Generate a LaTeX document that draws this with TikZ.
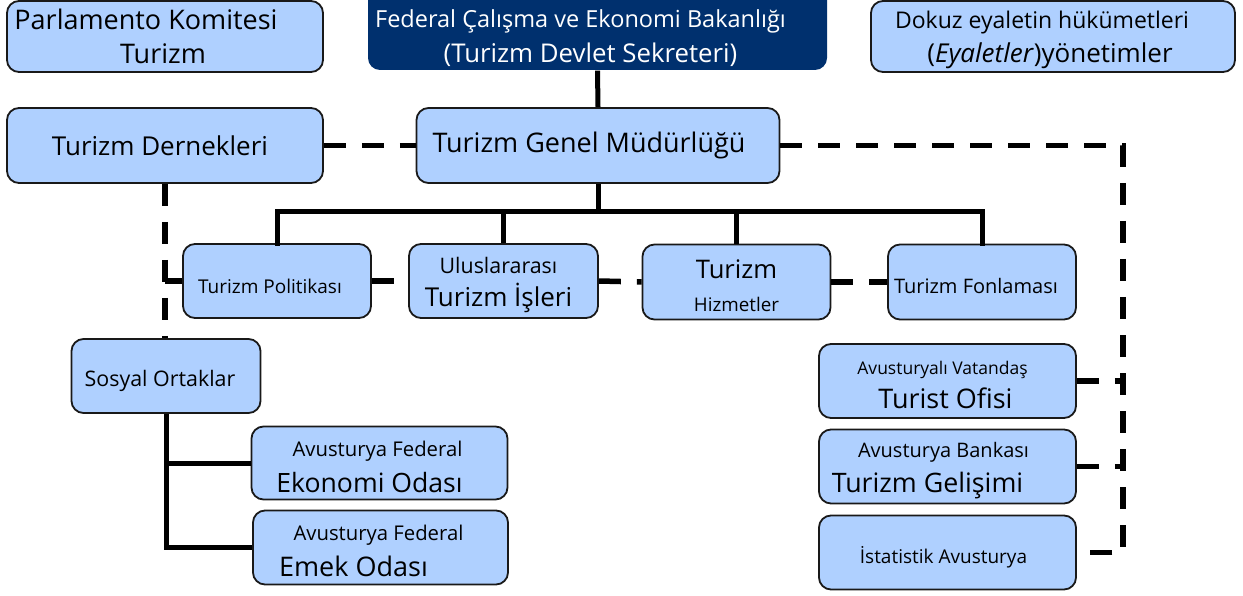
\documentclass[tikz,border=0pt]{standalone}
\usepackage{fontspec}
\setmainfont{Open Sans}
\definecolor{boxblue}{RGB}{175,208,255}
\definecolor{navy}{RGB}{0,48,110}
\newcommand\fsz[2]{\fontsize{#1}{#2}\selectfont}
\newcommand\topgap[1]{\rule{0pt}{#1pt}}

\begin{document}
\begin{tikzpicture}[x=1pt,y=-1pt,
	box/.style={draw=black!90, line width=1.8pt, fill=boxblue, rounded corners=12pt, align=center, inner sep=0pt},
	lines/.style={font=\fsz{20}{#1}},
	dashline/.style={line width=5.5pt, dash pattern=on 22pt off 16pt},
	solidline/.style={line width=5pt}]
			%%%%% FRAME %%%%%
			\useasboundingbox (0,0) rectangle (1243,596);
			
			%%%%% TOP ROW %%%%%
			\node[box, lines=34pt, minimum width=316pt, minimum height=71pt] (parl) at (165,36.5)
				{\fsz{27}{34}Parlamento Komitesi\hspace*{38pt}\\\fsz{27}{34}Turizm\hspace*{4pt}};
			
			\fill[navy, rounded corners=12pt] (368,-40) rectangle (827,70);
			\node[text=white, align=center, lines=35pt, minimum width=459pt, minimum height=70pt] (fed) at (597.5,35)
				{\fsz{23.5}{35}\topgap{25}Federal Çalışma ve Ekonomi Bakanlığı\hspace*{34pt}\\\fsz{25.8}{35}(Turizm Devlet Sekreteri)\hspace*{14pt}};
			
			\node[box, lines=34pt, minimum width=364pt, minimum height=71pt] (dokuz) at (1053,36.5)
				{\fsz{23}{34}\topgap{24}Dokuz eyaletin hükümetleri\hspace*{22pt}\\\fsz{26}{34}(\textit{Eyaletler})yönetimler\hspace*{6pt}};
			
			%%%%% SECOND ROW %%%%%
			\node[box, minimum width=316pt, minimum height=75pt, font=\fsz{26}{32}] (dernek) at (165,145.5) {Turizm Dernekleri\hspace*{10pt}};
			\node[box, minimum width=363pt, minimum height=75pt, font=\fsz{27}{34}] (genel) at (598,145.5) {Turizm Genel Müdürlüğü\hspace*{18pt}};
			
			%%%%% DEPARTMENTS %%%%%
			\node[box, minimum width=188pt, minimum height=74pt, font=\fsz{19}{24}] (politika) at (277,281) {\topgap{24.5}Turizm Politikası\hspace*{14pt}};
			\node[box, lines=33pt, minimum width=189pt, minimum height=74pt] (uluslar) at (503.5,281)
				{\fsz{21.4}{33}\topgap{24}Uluslararası\hspace*{10pt}\\\fsz{26}{33}Turizm İşleri\hspace*{10pt}};
			\node[box, lines=33pt, minimum width=188pt, minimum height=75pt] (hizmet) at (736.5,282)
				{\fsz{25.6}{33}\topgap{26}Turizm\\\fsz{18.8}{33}Hizmetler};
			\node[box, minimum width=188pt, minimum height=75pt, font=\fsz{20}{24}] (fonlama) at (982,282) {\topgap{24}Turizm Fonlaması\hspace*{12pt}};
			
			%%%%% SOCIAL PARTNERS %%%%%
			\node[box, minimum width=189pt, minimum height=74pt, font=\fsz{21.4}{26}] (sosyal) at (166,376) {\topgap{27}Sosyal Ortaklar\hspace*{12pt}};
			\node[box, lines=36pt, minimum width=256pt, minimum height=73pt] (ekonomi) at (379.5,463)
				{\fsz{20.3}{36}\topgap{23}Avusturya Federal\hspace*{4pt}\\\fsz{26.6}{36}Ekonomi Odası\hspace*{20pt}};
			\node[box, lines=36pt, minimum width=255pt, minimum height=74pt] (emek) at (380.5,547.5)
				{\fsz{20.3}{36}\topgap{23}Avusturya Federal\hspace*{4pt}\\\fsz{27}{36}Emek Odası\hspace*{54pt}};
			
			%%%%% RIGHT COLUMN %%%%%
			\node[box, lines=34pt, minimum width=257pt, minimum height=74pt] (turist) at (947.5,381)
				{\fsz{17.5}{34}\topgap{21}Avusturyalı Vatandaş\hspace*{10pt}\\\fsz{27}{34}Turist Ofisi\hspace*{4pt}};
			\node[box, lines=35pt, minimum width=257pt, minimum height=74pt] (banka) at (947.5,466.5)
				{\fsz{20}{35}\topgap{24}Avusturya Bankası\hspace*{8pt}\\\fsz{26.8}{35}Turizm Gelişimi\hspace*{40pt}};
			\node[box, minimum width=257pt, minimum height=74pt, font=\fsz{19}{24}] (istat) at (947.5,552.5) {\topgap{26}İstatistik Avusturya\hspace*{8pt}};
			
			%%%%% SOLID LINKS %%%%%
			\coordinate (bus) at (0,212);
			\draw[solidline] (fed.south) -- (genel.north);
			\draw[solidline] (genel.south) -- (genel.south |- bus);
			\draw[solidline, line cap=rect] (politika.north) -- (politika.north |- bus) -- (fonlama.north |- bus) -- (fonlama.north);
			\draw[solidline] (uluslar.north) -- (uluslar.north |- bus);
			\draw[solidline] (hizmet.north) -- (hizmet.north |- bus);
			
			\draw[solidline] (sosyal.south) |- (emek.west);
			\draw[solidline] (sosyal.south |- ekonomi.west) -- (ekonomi.west);
			
			%%%%% DASHED LINKS %%%%%
			\draw[dashline] (dernek.east) -- (genel.west);
			\draw[dashline] (dernek.south) -- (dernek.south |- sosyal.north);
			\draw[dashline] (politika.west) -- (politika.west -| dernek.south);
			\draw[dashline] (politika.east) -- (uluslar.west);
			\draw[dashline] (uluslar.east) -- (hizmet.west);
			\draw[dashline] (hizmet.east) -- (fonlama.west);
			
			\draw[dashline] (genel.east) -| ([xshift=46pt]istat.east) -- (istat.east);
			\draw[dashline] (turist.east) -- ++(46,0);
			\draw[dashline] (banka.east) -- ++(46,0);
			
			%%%%% END %%%%%
\end{tikzpicture}
\end{document}
